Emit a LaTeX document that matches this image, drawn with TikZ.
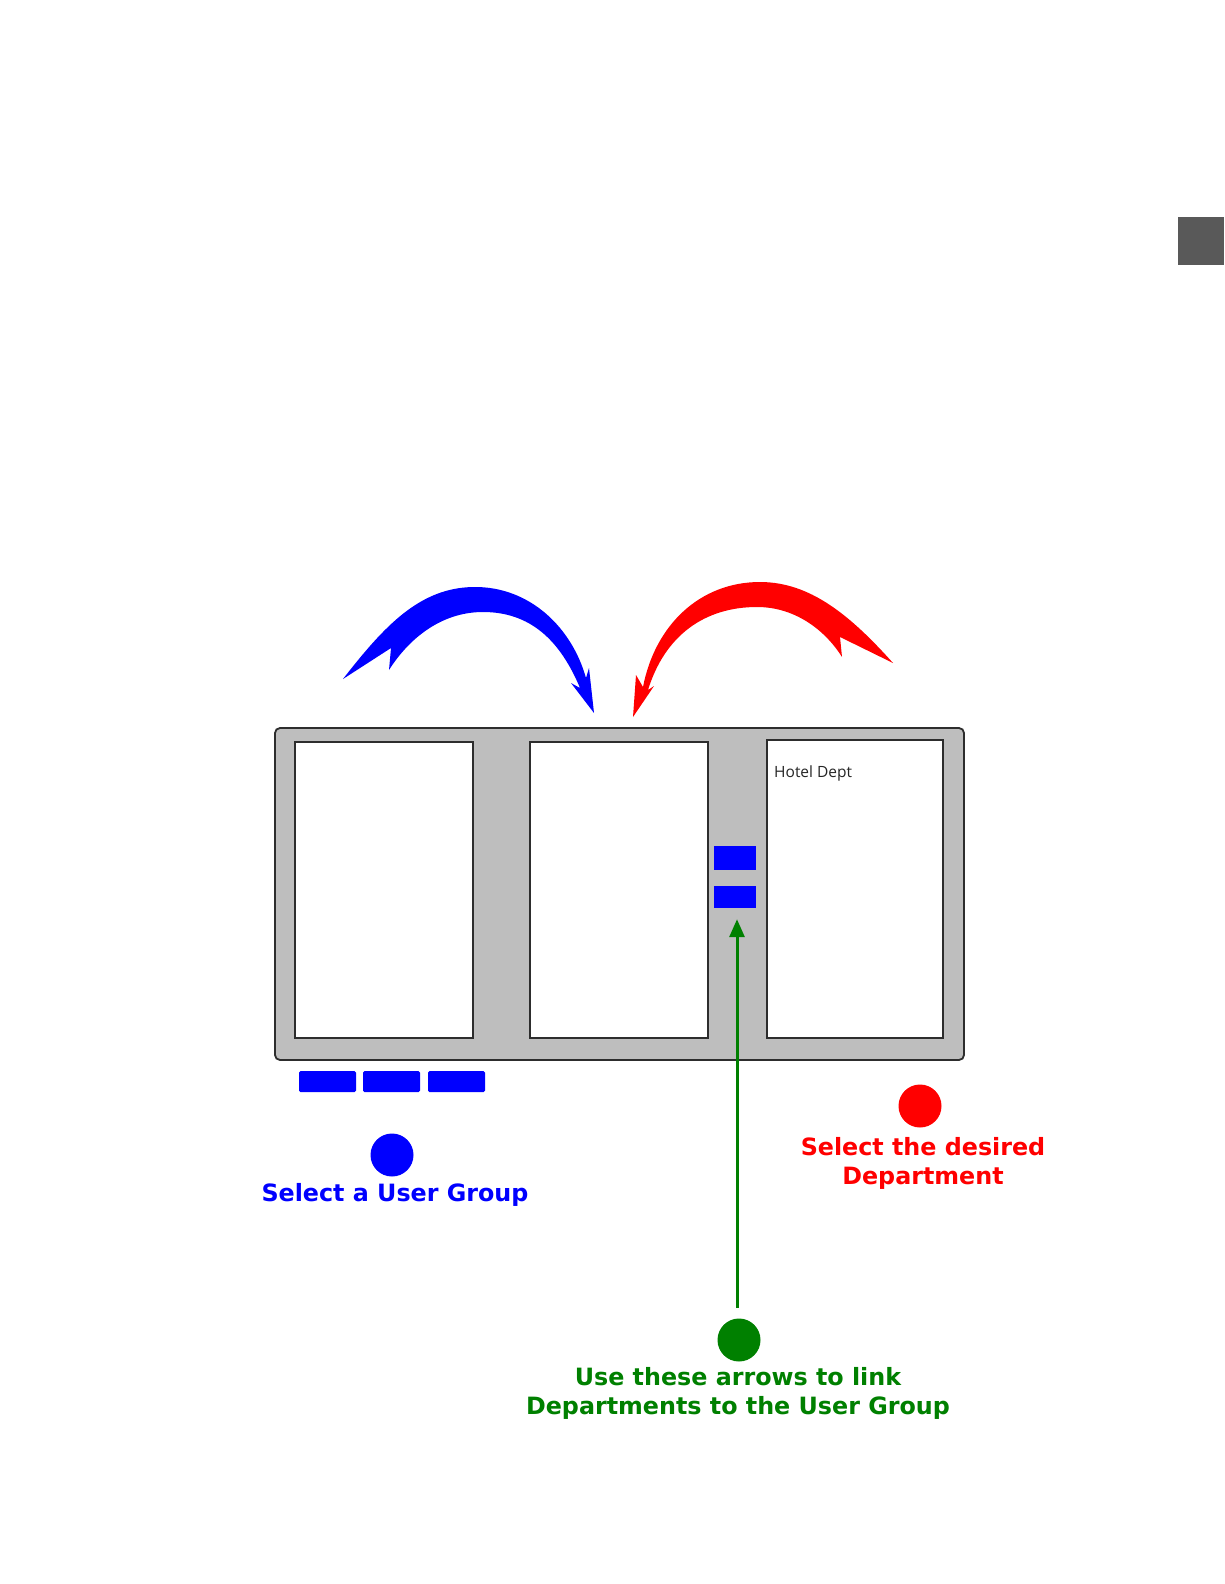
\documentclass[tikz,border=0pt]{standalone}
\usepackage{fontspec}
\setmainfont{DejaVu Sans}
\newfontfamily\uifont{Open Sans}
\usetikzlibrary{arrows.meta}
\definecolor{panelgray}{RGB}{190,190,190}
\definecolor{edgegray}{RGB}{45,45,45}
\definecolor{darkbox}{RGB}{89,89,89}
\definecolor{gdark}{RGB}{0,128,0}
\begin{document}
\begin{tikzpicture}[x=1pt,y=-1pt,
  frame/.style={draw=edgegray,line width=1.8pt,fill=panelgray,rounded corners=5pt,inner sep=0pt},
  listbox/.style={draw=edgegray,line width=1.8pt,fill=white,inner sep=0pt},
  bluebtn/.style={fill=blue,draw=none,inner sep=0pt,rounded corners=1.5pt},
  dot/.style={circle,draw=none,inner sep=0pt,minimum size=43pt},
  lab/.style={font=\bfseries\fontsize{23.8}{28.5}\selectfont,align=center,inner sep=0pt}]
\useasboundingbox (0,0) rectangle (1224,1584);
\fill[white] (0,0) rectangle (1224,1584);
% corner box
\fill[darkbox] (1178,217) rectangle (1224,265);
% main frame
\node[frame,minimum width=689pt,minimum height=332pt] (outer) at (619.5,894) {};
\node[listbox,minimum width=178pt,minimum height=296pt] (p1) at (384,890) {};
\node[listbox,minimum width=178pt,minimum height=296pt] (p2) at (619,890) {};
\node[listbox,minimum width=176pt,minimum height=298pt] (p3) at (855,889) {};
\node[anchor=west,inner sep=0pt,font=\uifont\fontsize{15.5}{17}\selectfont,text=black!85] (hotel) at (774,773) {Hotel Dept};
% link buttons
\node[fill=blue,inner sep=0pt,minimum width=42pt,minimum height=24pt] (s1) at (735,858) {};
\node[fill=blue,inner sep=0pt,minimum width=42pt,minimum height=22pt] (s2) at (735,897) {};
% group buttons
\node[bluebtn,minimum width=57pt,minimum height=21pt] (b1) at (327.5,1081.5) {};
\node[bluebtn,minimum width=57pt,minimum height=21pt] (b2) at (391.5,1081.5) {};
\node[bluebtn,minimum width=57pt,minimum height=21pt] (b3) at (456.5,1081.5) {};
% dots and labels
\node[dot,fill=blue] (bdot) at (392,1155) {};
\node[lab,text=blue,anchor=base] (blab) at (395,1201) {Select a User Group};
\node[dot,fill=red] (rdot) at (920,1106) {};
\node[lab,text=red,anchor=base] (rlab) at (923,1184) {Select the desired\\Department};
\node[dot,fill=gdark] (gdot) at (739,1340) {};
\node[lab,text=gdark,anchor=base] (glab) at (738,1414) {Use these arrows to link\\Departments to the User Group};
% green connector
\coordinate (gstart) at (737,1308);
\draw[gdark,line width=3pt,-{Triangle[length=18pt,width=15pt]},shorten >=11pt] (gstart) -- (gstart |- s2.south);
% blue curved arrow
\fill[blue] (343,679) .. controls (385,625) and (420,588) .. (473,587)
  .. controls (530,586) and (572,628) .. (586,678)
  -- (589,668) -- (594,713) -- (571,683) -- (580,688)
  .. controls (560,640) and (530,612) .. (483,612)
  .. controls (440,612) and (408,640) .. (389,670)
  -- (391,648) -- cycle;
% red curved arrow
\fill[red] (893,663) .. controls (850,615) and (810,582) .. (760,582)
  .. controls (700,582) and (655,625) .. (643,687)
  -- (636,675) -- (633,717) -- (654,686) -- (648,690)
  .. controls (665,635) and (705,607) .. (757,607)
  .. controls (795,607) and (825,630) .. (842,657)
  -- (840,637) -- cycle;
\end{tikzpicture}
\end{document}
